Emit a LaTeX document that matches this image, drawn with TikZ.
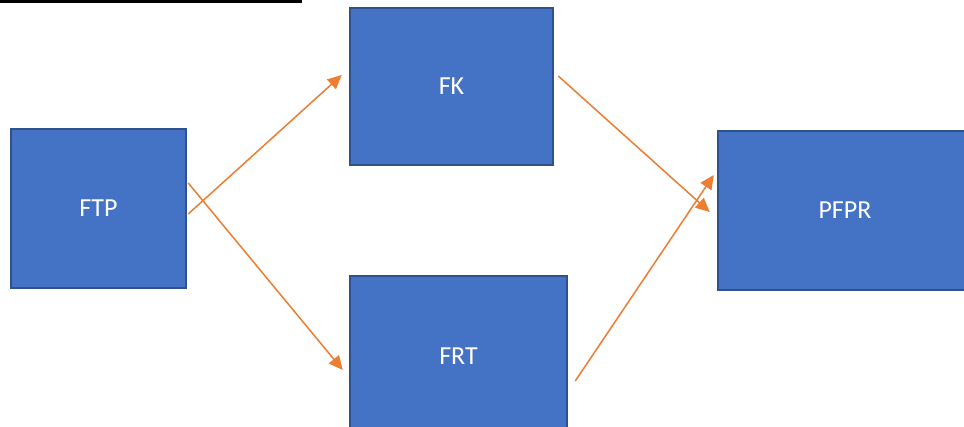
\documentclass[tikz,border=0pt]{standalone}
\usepackage{fontspec}
\setmainfont{Carlito}
\usetikzlibrary{arrows.meta}
\definecolor{boxfill}{HTML}{4472C4}
\definecolor{boxline}{HTML}{2F528F}
\definecolor{arrorange}{HTML}{ED7D31}
\tikzset{
  blockbox/.style={draw=boxline, line width=2.5pt, fill=boxfill, text=white,
    font=\fontsize{26}{30}\selectfont, inner sep=0pt},
  arr/.style={draw=arrorange, line width=1.5pt, -{Triangle[length=14pt,width=13pt]}}
}
\begin{document}
\begin{tikzpicture}[x=1pt,y=-1pt]
\useasboundingbox (0,0) rectangle (964,427);
\clip (0,0) rectangle (964,427);
\fill[white] (0,0) rectangle (964,427);
\draw[line width=4pt, black] (0,1) -- (302,1);
\node[blockbox, minimum width=175pt, minimum height=159pt] (ftp) at (98.5,208.5) {FTP};
\node[blockbox, minimum width=203pt, minimum height=157pt] (fk) at (451.5,86.5) {FK};
\node[blockbox, minimum width=217pt, minimum height=160pt] (frt) at (458.5,356) {FRT};
\node[blockbox, minimum width=254pt, minimum height=159pt] (pfpr) at (845,210.5) {PFPR};
\draw[arr] ([shift={(1,5.5)}]ftp.east) -- ([shift={(-7,-11.5)}]fk.west);
\draw[arr] ([shift={(1,-25.5)}]ftp.east) -- ([shift={(-6,14)}]frt.west);
\draw[arr] ([shift={(4,-10.5)}]fk.east) -- ([shift={(-7,1.5)}]pfpr.west);
\draw[arr] ([shift={(7,25)}]frt.east) -- ([shift={(-3,-35.5)}]pfpr.west);
\end{tikzpicture}
\end{document}
